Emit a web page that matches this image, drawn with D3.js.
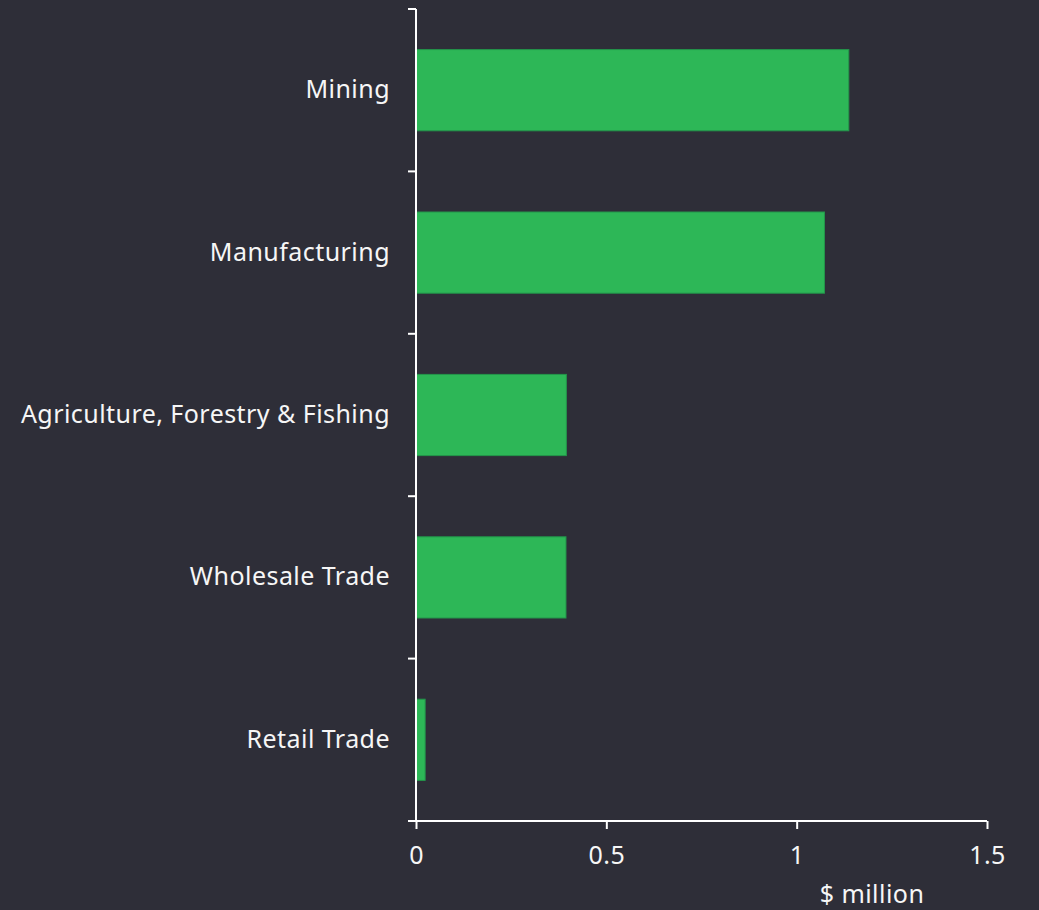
<!DOCTYPE html>
<html><head><meta charset="utf-8">
<script src="https://cdn.jsdelivr.net/npm/d3@7"></script>
<style>
html,body{margin:0;padding:0;background:#2e2e38;}
svg{display:block;}
text{font-family:"Noto Sans",sans-serif;fill:#f6f6f6;letter-spacing:0.45px;}
</style></head><body>
<svg id="c" width="1039" height="910"></svg>
<script>
const categories = ["Mining","Manufacturing","Agriculture, Forestry & Fishing","Wholesale Trade","Retail Trade"];
const values = [1.137, 1.073, 0.395, 0.394, 0.024];
const xTicks = [0, 0.5, 1, 1.5];
const xTickLabels = ["0","0.5","1","1.5"];
const xTitle = "$ million";

(function(){
const svg = d3.select("#c");
svg.append("rect").attr("width",1039).attr("height",910).attr("fill","#2e2e38");
const mL = 416, mR = 987, mT = 9, mB = 821;
const x = d3.scaleLinear().domain([0,1.5]).range([mL,mR]);
const y = d3.scaleBand().domain(categories).range([mT,mB]).paddingInner(0.5).paddingOuter(0.25);

svg.selectAll("rect.bar").data(categories).enter().append("rect")
  .attr("class","bar")
  .attr("x", x(0))
  .attr("y", d=>y(d))
  .attr("width", (d,i)=>x(values[i])-x(0))
  .attr("height", y.bandwidth())
  .attr("fill","#2db757")
  .attr("stroke","#23954a").attr("stroke-width",1);

const g = svg.append("g");
g.append("line").attr("x1",mL).attr("x2",mL).attr("y1",mT).attr("y2",mB)
  .attr("stroke","#fff").attr("stroke-width",2);
const bounds = d3.range(categories.length+1).map(i=>mT + i*(mB-mT)/categories.length);
g.selectAll("line.yt").data(bounds).enter().append("line").attr("class","yt")
  .attr("x1",mL-8).attr("x2",mL).attr("y1",d=>d).attr("y2",d=>d)
  .attr("stroke","#fff").attr("stroke-width",2);
g.selectAll("text.yl").data(categories).enter().append("text").attr("class","yl")
  .attr("x",mL-26).attr("y",d=>y(d)+y.bandwidth()/2 - 2)
  .attr("text-anchor","end").attr("dominant-baseline","central")
  .attr("font-size",25).text(d=>d);

const xAxis = d3.axisBottom(x).tickValues(xTicks).tickFormat((d,i)=>xTickLabels[i]).tickSize(8).tickSizeOuter(0).tickPadding(17);
const ax = svg.append("g").attr("transform",`translate(0,${mB})`).call(xAxis);
ax.select(".domain").attr("stroke","#fff").attr("stroke-width",2).attr("d",`M${mL-8},0H${mR}`);
ax.selectAll(".tick line").attr("stroke","#fff").attr("stroke-width",2);
ax.selectAll(".tick text").attr("font-size",25).attr("fill","#f6f6f6").attr("font-family","Noto Sans");
svg.append("text").attr("x",872).attr("y",903).attr("text-anchor","middle").attr("font-size",25).text(xTitle);
})();
</script></body></html>
